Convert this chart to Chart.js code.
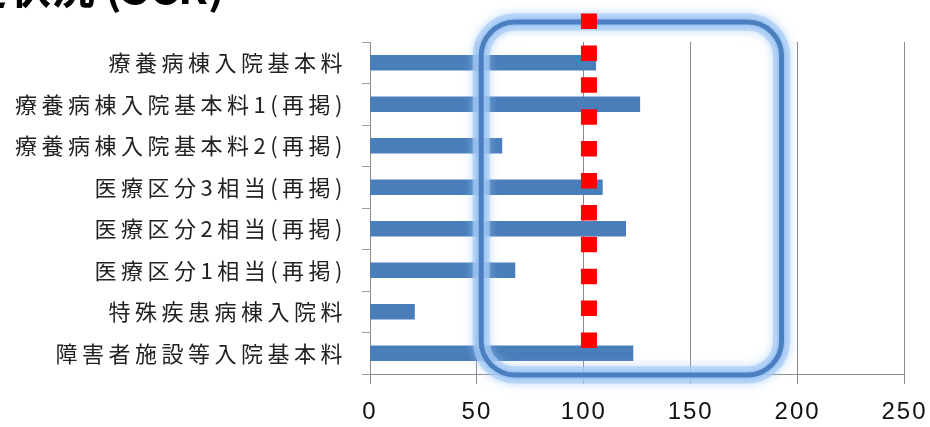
<!DOCTYPE html>
<html lang="ja">
<head>
<meta charset="utf-8">
<script src="https://cdn.jsdelivr.net/npm/chart.js@4.4.1/dist/chart.umd.min.js"></script>
<style>
  html, body { margin: 0; padding: 0; background: #fff; overflow: hidden; }
  #contenedor { position: relative; width: 930px; height: 427px; }
  #grafico { position: absolute; left: 0; top: 0; }
  #titulo {
    position: absolute; left: -81px; top: -37px; z-index: 2;
    font: bold 44px 'Noto Sans CJK JP', sans-serif; line-height: 44px;
    color: #000; white-space: nowrap;
  }
</style>
</head>
<body>
<div id="contenedor">
  <canvas id="grafico" width="930" height="427"></canvas>
  <div id="titulo">算定状況 (SCR)</div>
</div>
<script>
// datos //
const categorias = [
  "療養病棟入院基本料",
  "療養病棟入院基本料1(再掲)",
  "療養病棟入院基本料2(再掲)",
  "医療区分3相当(再掲)",
  "医療区分2相当(再掲)",
  "医療区分1相当(再掲)",
  "特殊疾患病棟入院料",
  "障害者施設等入院基本料"
];
const valores = [105.6, 126.2, 61.7, 108.7, 119.6, 67.8, 20.8, 123.0];
const ticksX = [0, 50, 100, 150, 200, 250];
const lineaReferencia = 102.4;
const marcoDesde = 52;
const marcoHasta = 192.5;

// espaciado de letras por eje //
const espaciado = {
  id: "espaciado",
  afterLayout(chart) {
    const conf = { x: "2px", y: "4.5px" };
    Object.keys(conf).forEach((id) => {
      const escala = chart.scales[id];
      if (!escala || escala._conEspacio) return;
      const original = escala.drawLabels;
      escala.drawLabels = function (area) {
        this.ctx.save();
        this.ctx.letterSpacing = conf[id];
        original.call(this, area);
        this.ctx.restore();
      };
      escala._conEspacio = true;
    });
  }
};

// marco azul y linea roja //
const anotaciones = {
  id: "anotaciones",
  afterDraw(chart) {
    const ctx = chart.ctx;
    const area = chart.chartArea;
    const x = chart.scales.x;
    ctx.save();

    const x0 = x.getPixelForValue(marcoDesde);
    const x1 = x.getPixelForValue(marcoHasta);
    const y0 = area.top - 20;
    const y1 = area.bottom + 1;
    const marco = () => {
      ctx.beginPath();
      ctx.roundRect(x0, y0, x1 - x0, y1 - y0, 34);
    };

    ctx.shadowColor = "rgba(150,195,245,0.9)";
    ctx.shadowBlur = 10;
    marco();
    ctx.lineWidth = 17;
    ctx.strokeStyle = "rgba(165,202,245,0.7)";
    ctx.stroke();
    ctx.shadowBlur = 0;
    ctx.shadowColor = "transparent";
    marco();
    ctx.lineWidth = 9;
    ctx.strokeStyle = "rgba(150,192,240,0.5)";
    ctx.stroke();
    marco();
    ctx.lineWidth = 5;
    ctx.strokeStyle = "#4b7fbf";
    ctx.stroke();

    const xr = x.getPixelForValue(lineaReferencia);
    ctx.beginPath();
    ctx.setLineDash([15.5, 16.4]);
    ctx.lineWidth = 16;
    ctx.strokeStyle = "#ff0000";
    ctx.moveTo(xr, area.top - 28.5);
    ctx.lineTo(xr, area.bottom - 25);
    ctx.stroke();
    ctx.restore();
  }
};

new Chart(document.getElementById("grafico"), {
  type: "bar",
  data: {
    labels: categorias,
    datasets: [{
      data: valores,
      backgroundColor: "#4a7ebb",
      barThickness: 15
    }]
  },
  options: {
    responsive: false,
    animation: false,
    indexAxis: "y",
    layout: { padding: { top: 42, right: 25.5, bottom: 0, left: 0 } },
    plugins: {
      legend: { display: false },
      tooltip: { enabled: false }
    },
    scales: {
      x: {
        min: 0,
        max: 250,
        afterBuildTicks: (s) => { s.ticks = ticksX.map(v => ({ value: v })); },
        afterFit: (s) => { s.height = 53; s.paddingLeft = 0; s.paddingRight = 0; },
        grid: { color: "#8c8c8c", lineWidth: 1, tickLength: 10 },
        border: { color: "#8c8c8c" },
        ticks: {
          color: "#111",
          padding: 14,
          maxRotation: 0,
          font: { size: 24, family: "'Liberation Sans', sans-serif" }
        }
      },
      y: {
        afterFit: (s) => { s.width = 370; s.paddingTop = 0; s.paddingBottom = 0; },
        grid: { drawOnChartArea: false, color: "#a0a0a0", tickLength: 8 },
        border: { color: "#8c8c8c" },
        ticks: {
          color: "#222",
          padding: 15,
          font: { size: 22, family: "'Noto Sans CJK JP', sans-serif" }
        }
      }
    }
  },
  plugins: [espaciado, anotaciones]
});
</script>
</body>
</html>
